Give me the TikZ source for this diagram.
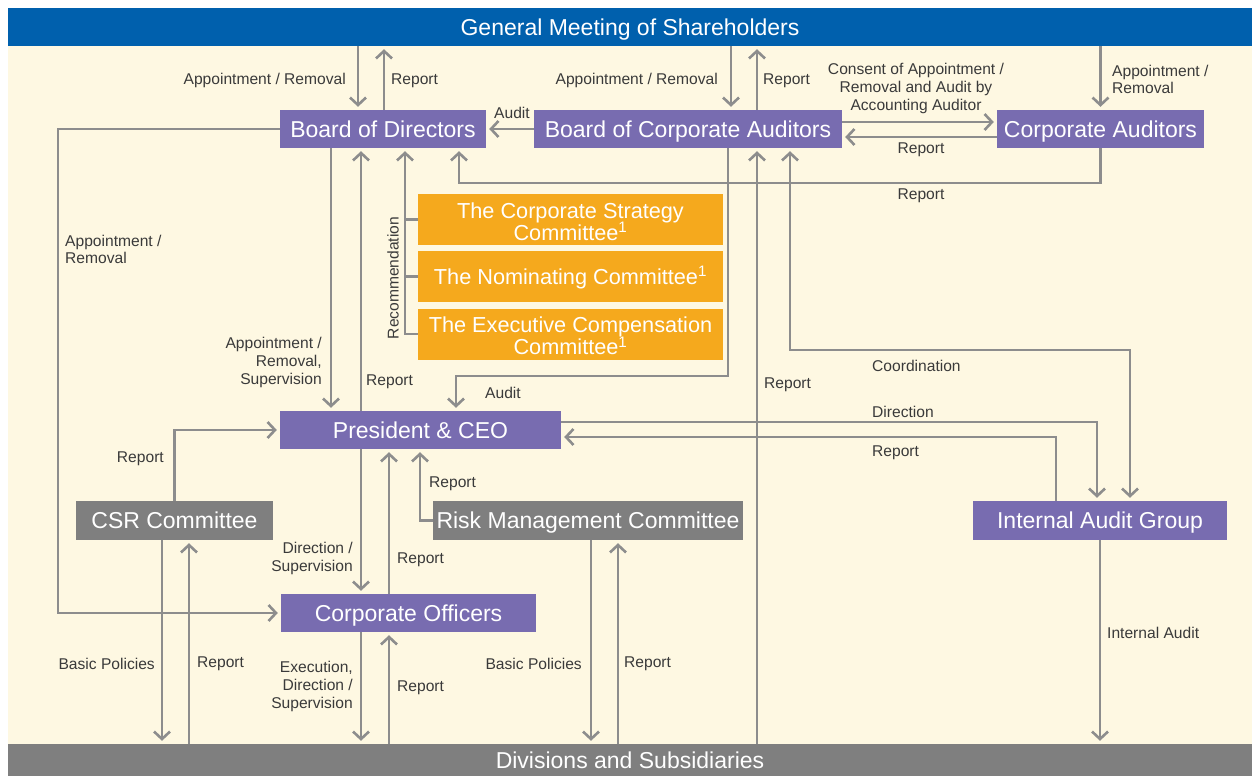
\documentclass[tikz,border=0pt]{standalone}
\usepackage{fontspec}
\setmainfont{Liberation Sans}
\usetikzlibrary{arrows.meta}
\definecolor{bgcream}{HTML}{FEF8E2}
\definecolor{gmblue}{HTML}{0060AD}
\definecolor{purp}{HTML}{786CB0}
\definecolor{orng}{HTML}{F5A91D}
\definecolor{gbox}{HTML}{7F7F7F}
\definecolor{lineg}{HTML}{8D8D8D}
\definecolor{lbl}{HTML}{3A3A3A}
% taller first line so the committee names sit a little lower
\newcommand\firstline{\rule{0pt}{20pt}}
% footnote mark that does not push the lines apart
\newcommand\fn{\smash{\textsuperscript{1}}}
\begin{document}
\begin{tikzpicture}[x=1pt,y=-1pt,
  box/.style={rectangle, inner sep=0pt, text=white, align=center,
              font=\fontsize{23}{23}\selectfont},
  onebox/.style={box, text height=16.5pt, text depth=0pt},
  pbox/.style={onebox, fill=purp, minimum height=38pt},
  obox/.style={box, fill=orng, minimum width=305pt, minimum height=51pt,
               font=\fontsize{21.7}{22}\selectfont},
  gbx/.style={onebox, fill=gbox, minimum height=39pt},
  ln/.style={draw=lineg, line width=2.6pt},
  tip/.tip={Straight Barb[length=7.5pt,width=16pt,line width=2.6pt]},
  arr/.style={ln, -tip, shorten >=3pt},
  arrb/.style={ln, tip-tip, shorten >=3pt, shorten <=3pt},
  lab/.style={text=lbl, inner sep=0pt, yshift=-1.5pt, font=\fontsize{15.6}{17.7}\selectfont},
  labl/.style={lab, anchor=west, align=left},
  labr/.style={lab, anchor=east, align=right},
  labc/.style={lab, align=center}]

\useasboundingbox (0,0) rectangle (1252,776);
\fill[white] (0,0) rectangle (1252,776);
\fill[bgcream] (8,46) rectangle (1252,744);

% top and bottom bands
\node[onebox, fill=gmblue, minimum width=1244pt, minimum height=38pt] (gm) at (630,27) {General Meeting of Shareholders};
\node[onebox, fill=gbox, minimum width=1244pt, minimum height=32pt] (div) at (630,760) {Divisions and Subsidiaries};

% boards and officers
\node[pbox, minimum width=206pt] (bod) at (383,129) {Board of Directors};
\node[pbox, minimum width=308pt] (bca) at (688,129) {Board of Corporate Auditors};
\node[pbox, minimum width=207pt] (ca) at (1100.5,129) {Corporate Auditors};
\node[pbox, minimum width=281pt] (ceo) at (420.5,430) {President \& CEO};
\node[pbox, minimum width=255pt] (co) at (408.5,613) {Corporate Officers};
\node[pbox, minimum width=254pt, minimum height=39pt] (iag) at (1100,520.5) {Internal Audit Group};

% committees
\node[obox] (cs) at (570.5,219.5) {\firstline The Corporate Strategy\\Committee\fn};
\node[obox] (nom) at (570.5,276.5) {\firstline The Nominating Committee\fn};
\node[obox] (exc) at (570.5,334) {\firstline The Executive Compensation\\Committee\fn};
\node[gbx, minimum width=197pt] (csr) at (174.5,520.5) {CSR Committee};
\node[gbx, minimum width=310pt] (rm) at (588,520.5) {Risk Management Committee};

% shareholders <-> boards
\draw[arr] (358,0 |- gm.south) -- (358,0 |- bod.north);
\draw[arr] (384,0 |- bod.north) -- (384,0 |- gm.south);
\draw[arr] (731,0 |- gm.south) -- (731,0 |- bca.north);
\draw[arr] (757,0 |- bca.north) -- (757,0 |- gm.south);
\draw[arr] (ca.north |- gm.south) -- (ca.north);
\node[labr] (l1) at (346,79) {Appointment / Removal};
\node[labl] (l2) at (391,79) {Report};
\node[labr] (l3) at (718,79) {Appointment / Removal};
\node[labl] (l4) at (763,79) {Report};
\node[labl] (l5) at (1112,78) {Appointment /\\Removal};

% auditors
\draw[arr] (bca.west) -- (bod.east);
\node[labc] (l6) at (512,111) {Audit};
\draw[arr] (bca.east |- 0,122) -- (ca.west |- 0,122);
\node[labc] (l7) at (916,87) {Consent of Appointment /\\Removal and Audit by\\Accounting Auditor};
\draw[arr] (ca.west |- 0,137) -- (bca.east |- 0,137);
\node[labc] (l8) at (921,148) {Report};
\draw[arr] (ca.south) -- (ca.south |- 0,183) -- (459,183) -- (459,0 |- bod.south);
\node[labc] (l9) at (921,194) {Report};

% board of directors -> corporate officers
\draw[arr] (bod.west) -- (58,0 |- bod.west) -- (58,0 |- co.west) -- (co.west);
\node[labl, anchor=north west] (l10) at (65,233) {Appointment /\\Removal};

% board of directors <-> president
\draw[arr] (331,0 |- bod.south) -- (331,0 |- ceo.north);
\node[labr] (l11) at (322,361) {Appointment /\\Removal,\\Supervision};
\draw[arr] (361,0 |- ceo.north) -- (361,0 |- bod.south);
\node[labl] (l12) at (366,380) {Report};

% committee recommendations
\draw[ln] (cs.west) -- (405,0 |- cs.west);
\draw[ln] (nom.west) -- (405,0 |- nom.west);
\draw[arr] (exc.west) -- (405,0 |- exc.west) -- (405,0 |- bod.south);
\node[lab, rotate=90, yshift=0pt, xshift=-1.5pt] (l13) at (393,275) {Recommendation};

% auditors -> president
\draw[arr] (728,0 |- bca.south) -- (728,376) -- (456,376) -- (456,0 |- ceo.north);
\node[labc] (l14) at (503,391) {Audit};
\draw[arr] (757,0 |- div.north) -- (757,0 |- bca.south);
\node[labl] (l15) at (764,383) {Report};

% internal audit group
\draw[arrb] (790,0 |- bca.south) -- (790,350) -- (1130,350) -- (1130,0 |- iag.north);
\node[labl] (l16) at (872,364) {Coordination};
\draw[arr] (ceo.east |- 0,422) -- (1097,422) -- (1097,0 |- iag.north);
\node[labl] (l17) at (872,410) {Direction};
\draw[arr] (1056,0 |- iag.north) -- (1056,437) -- (ceo.east |- 0,437);
\node[labl] (l18) at (872,451) {Report};
\draw[arr] (iag.south) -- (iag.south |- div.north);
\node[labl] (l19) at (1107,631) {Internal Audit};

% CSR committee
\draw[arr] (csr.north) -- (csr.north |- ceo.west) -- (ceo.west);
\node[labr] (l20) at (164,457) {Report};
\draw[arr] (162,0 |- csr.south) -- (162,0 |- div.north);
\node[labr] (l21) at (155,662) {Basic Policies};
\draw[arr] (189,0 |- div.north) -- (189,0 |- csr.south);
\node[labl] (l22) at (197,662) {Report};

% president <-> corporate officers
\draw[arr] (361,0 |- ceo.south) -- (361,0 |- co.north);
\node[labr] (l23) at (353,557) {Direction /\\Supervision};
\draw[arr] (389,0 |- co.north) -- (389,0 |- ceo.south);
\node[labl] (l24) at (397,558) {Report};

% risk management committee
\draw[arr] (rm.west) -- (420,0 |- rm.west) -- (420,0 |- ceo.south);
\node[labl] (l25) at (429,482) {Report};
\draw[arr] (591,0 |- rm.south) -- (591,0 |- div.north);
\node[labr] (l26) at (582,662) {Basic Policies};
\draw[arr] (618,0 |- div.north) -- (618,0 |- rm.south);
\node[labl] (l27) at (624,662) {Report};

% corporate officers <-> divisions
\draw[arr] (361,0 |- co.south) -- (361,0 |- div.north);
\node[labr] (l28) at (353,685) {Execution,\\Direction /\\Supervision};
\draw[arr] (389,0 |- div.north) -- (389,0 |- co.south);
\node[labl] (l29) at (397,686) {Report};
\end{tikzpicture}
\end{document}
